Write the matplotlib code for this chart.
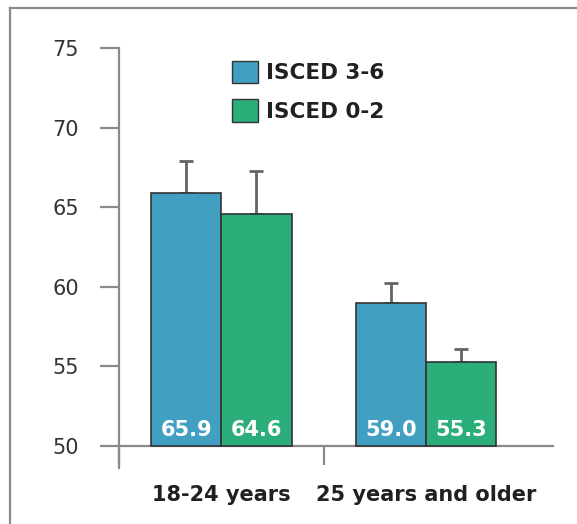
import matplotlib
matplotlib.use("Agg")
import matplotlib.pyplot as plt
from matplotlib.patches import Patch
from matplotlib.lines import Line2D
import numpy as np

categories = ["18-24 years", "25 years and older"]
series_names = ["ISCED 3-6", "ISCED 0-2"]
isced_36 = [65.9, 59.0]
isced_02 = [64.6, 55.3]
err_36 = [2.0, 1.25]
err_02 = [2.65, 0.8]

blue = "#41a0c2"
green = "#2bae7a"
gray_axis = "#8a8a8c"
gray_err = "#626466"

plt.rcParams["font.family"] = ["DejaVu Sans"]

fig = plt.figure(figsize=(5.77, 5.24), dpi=100)
ax = fig.add_axes([0.2062, 0.1069, 0.7522, 0.8015])

x = np.arange(len(categories))
w = 0.343
base = 50
ax.bar(x - w / 2, np.array(isced_36) - base, w, bottom=base, color=blue,
       edgecolor="#333333", linewidth=1.2, label=series_names[0], zorder=3)
ax.bar(x + w / 2, np.array(isced_02) - base, w, bottom=base, color=green,
       edgecolor="#333333", linewidth=1.2, label=series_names[1], zorder=3)

ax.errorbar(x - w / 2, isced_36, yerr=[np.zeros(2), err_36], fmt="none",
            ecolor=gray_err, elinewidth=2, capsize=5, capthick=2, zorder=2)
ax.errorbar(x + w / 2, isced_02, yerr=[np.zeros(2), err_02], fmt="none",
            ecolor=gray_err, elinewidth=2, capsize=5, capthick=2, zorder=2)

for xs, vals in [(x - w / 2, isced_36), (x + w / 2, isced_02)]:
    for xi, v in zip(xs, vals):
        ax.text(xi, 51.0, f"{v:.1f}", ha="center", va="center", color="white",
                fontsize=15, fontweight="bold", zorder=4)

ax.set_xlim(-0.5, 1.62)
ax.set_ylim(48.62, 75)

for s in ["top", "right"]:
    ax.spines[s].set_visible(False)
ax.spines["bottom"].set_position(("data", 50))
for s in ["left", "bottom"]:
    ax.spines[s].set_color(gray_axis)
    ax.spines[s].set_linewidth(1.6)

ax.set_yticks([50, 55, 60, 65, 70, 75])
ax.tick_params(axis="y", length=14, width=1.6, color=gray_axis, pad=15,
               labelsize=15, labelcolor="#333333")

ax.set_xticks(x)
ax.set_xticklabels(categories, fontsize=15, fontweight="bold", color="#231f20")
ax.set_xticks([-0.5, 0.5], minor=True)
ax.tick_params(axis="x", which="major", length=0, pad=28)
ax.tick_params(axis="x", which="minor", length=14, width=1.6, color=gray_axis)

handles = [Patch(facecolor=blue, edgecolor="#333333", label=series_names[0]),
           Patch(facecolor=green, edgecolor="#333333", label=series_names[1])]
leg = ax.legend(handles=handles, loc="upper left", bbox_to_anchor=(0.22, 1.01),
                frameon=False, prop={"size": 15.5, "weight": "bold"},
                handlelength=1.2, handleheight=1.2, handletextpad=0.4,
                labelspacing=0.75, borderpad=0.3)
for t in leg.get_texts():
    t.set_color("#231f20")

# outer frame (top and left edges)
fig.add_artist(Line2D([10 / 577, 1], [1 - 8 / 524, 1 - 8 / 524],
                      color=gray_axis, linewidth=1.6, transform=fig.transFigure))
fig.add_artist(Line2D([10 / 577, 10 / 577], [0, 1 - 8 / 524],
                      color=gray_axis, linewidth=1.6, transform=fig.transFigure))

fig.savefig("out.png", dpi=100)
